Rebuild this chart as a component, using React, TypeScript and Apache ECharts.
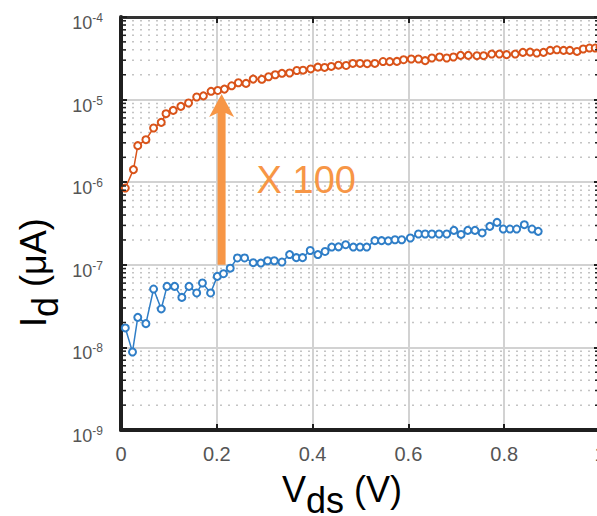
import React, { useEffect, useRef } from 'react';
import * as echarts from 'echarts';

const FONT = '"Liberation Sans", Arial, Helvetica, sans-serif';

// I_d (blue, before) — V_ds in V, I_d in µA
const blueX = [0.009, 0.024, 0.035, 0.052, 0.068, 0.084, 0.096, 0.112, 0.127, 0.142, 0.158, 0.170, 0.187, 0.201, 0.214, 0.228, 0.243, 0.258, 0.276, 0.292, 0.306, 0.320, 0.336, 0.352, 0.366, 0.379, 0.395, 0.411, 0.426, 0.440, 0.454, 0.469, 0.485, 0.499, 0.513, 0.530, 0.544, 0.558, 0.572, 0.586, 0.604, 0.621, 0.635, 0.649, 0.664, 0.680, 0.695, 0.710, 0.724, 0.739, 0.754, 0.770, 0.785, 0.798, 0.812, 0.826, 0.842, 0.858, 0.871];
const blueY = [1.72e-8, 8.8e-9, 2.31e-8, 1.94e-8, 5.09e-8, 2.92e-8, 5.48e-8, 5.48e-8, 4.03e-8, 5.48e-8, 4.56e-8, 6.02e-8, 4.56e-8, 7.24e-8, 7.8e-8, 9.1e-8, 1.21e-7, 1.21e-7, 1.06e-7, 1.05e-7, 1.12e-7, 1.12e-7, 1.08e-7, 1.33e-7, 1.22e-7, 1.22e-7, 1.49e-7, 1.33e-7, 1.45e-7, 1.64e-7, 1.65e-7, 1.75e-7, 1.64e-7, 1.64e-7, 1.64e-7, 1.96e-7, 1.96e-7, 1.95e-7, 2.01e-7, 2.01e-7, 2.11e-7, 2.36e-7, 2.36e-7, 2.36e-7, 2.36e-7, 2.36e-7, 2.61e-7, 2.33e-7, 2.61e-7, 2.61e-7, 2.43e-7, 2.92e-7, 3.26e-7, 2.71e-7, 2.71e-7, 2.71e-7, 3.06e-7, 2.71e-7, 2.54e-7];

// I_d (red, after)
const redX = [0.009, 0.026, 0.035, 0.052, 0.068, 0.084, 0.094, 0.109, 0.125, 0.141, 0.158, 0.172, 0.188, 0.202, 0.216, 0.231, 0.245, 0.261, 0.276, 0.294, 0.308, 0.322, 0.336, 0.352, 0.367, 0.380, 0.396, 0.411, 0.425, 0.439, 0.454, 0.470, 0.484, 0.499, 0.514, 0.530, 0.547, 0.561, 0.576, 0.590, 0.606, 0.621, 0.635, 0.649, 0.665, 0.680, 0.694, 0.709, 0.725, 0.743, 0.757, 0.774, 0.790, 0.805, 0.823, 0.839, 0.854, 0.868, 0.882, 0.896, 0.910, 0.924, 0.937, 0.952, 0.965, 0.978, 0.990, 1.0];
const redY = [8.5e-7, 1.42e-6, 2.77e-6, 3.27e-6, 4.53e-6, 5.3e-6, 6.75e-6, 7.4e-6, 8.28e-6, 9.1e-6, 1.075e-5, 1.11e-5, 1.26e-5, 1.29e-5, 1.34e-5, 1.47e-5, 1.6e-5, 1.57e-5, 1.77e-5, 1.76e-5, 1.89e-5, 2.0e-5, 2.08e-5, 2.1e-5, 2.25e-5, 2.27e-5, 2.35e-5, 2.47e-5, 2.45e-5, 2.52e-5, 2.61e-5, 2.59e-5, 2.74e-5, 2.74e-5, 2.72e-5, 2.74e-5, 2.89e-5, 2.88e-5, 2.9e-5, 3.04e-5, 3.1e-5, 3.1e-5, 2.96e-5, 3.19e-5, 3.28e-5, 3.19e-5, 3.28e-5, 3.43e-5, 3.43e-5, 3.4e-5, 3.4e-5, 3.56e-5, 3.56e-5, 3.5e-5, 3.56e-5, 3.73e-5, 3.76e-5, 3.66e-5, 3.73e-5, 3.94e-5, 4.01e-5, 3.94e-5, 3.94e-5, 3.83e-5, 4.1e-5, 4.21e-5, 4.21e-5, 4.3e-5];

const yDecades = [-9, -8, -7, -6, -5];
const minorMultipliers = [2, 3, 4, 5, 6, 7, 8, 9];
const arrowFrom = [0.21, 1e-7];
const arrowTo = [0.21, 1.17e-5];
const annotationText = 'X 100';

const RED = '#D95319';
const BLUE = '#2F7EC7';
const ORANGE = '#F79646';

export default function App() {
  const ref = useRef<HTMLDivElement>(null);

  useEffect(() => {
    if (!ref.current) return;
    const chart = echarts.init(ref.current, null, { renderer: 'svg' });

    const axisColor = '#1f1f1f';
    const option: any = {
      animation: false,
      backgroundColor: '#ffffff',
      grid: { left: 121, right: -3, top: 17, bottom: 86, containLabel: false, outerBoundsMode: 'none' },
      xAxis: [
        {
          type: 'value', min: 0, max: 1, interval: 0.2, position: 'bottom',
          axisLine: { show: true, onZero: false, lineStyle: { color: axisColor, width: 4 } },
          axisTick: { show: true, inside: true, length: 6, lineStyle: { color: axisColor, width: 2 } },
          axisLabel: { fontSize: 20, color: '#555555', margin: 14, fontFamily: FONT, hideOverlap: false },
          splitLine: { show: true, lineStyle: { color: '#d2d2d2', width: 2 } },
        },
        {
          type: 'value', min: 0, max: 1, interval: 0.2, position: 'top',
          axisLine: { show: true, onZero: false, lineStyle: { color: '#333333', width: 3 } },
          axisTick: { show: true, inside: true, length: 6, lineStyle: { color: axisColor, width: 2 } },
          axisLabel: { show: false },
          splitLine: { show: false },
        },
      ],
      yAxis: [
        {
          type: 'log', logBase: 10, min: 1e-9, max: 1e-4, position: 'left',
          axisLine: { show: true, onZero: false, lineStyle: { color: axisColor, width: 4 } },
          axisTick: { show: true, inside: true, length: 6, lineStyle: { color: axisColor, width: 2 } },
          axisLabel: {
            margin: 18,
            padding: [12, 0, 0, 0],
            color: '#555555',
            fontFamily: FONT,
            formatter: (v: number) => `{b|10}{s|${Math.round(Math.log10(v))}}`,
            rich: {
              b: { fontSize: 18, lineHeight: 22, color: '#555555', fontFamily: FONT },
              s: { fontSize: 12, verticalAlign: 'top', color: '#555555', fontFamily: FONT },
            },
          },
          splitLine: { show: true, lineStyle: { color: '#d2d2d2', width: 2 } },
        },
        {
          type: 'log', logBase: 10, min: 1e-9, max: 1e-4, position: 'right',
          axisLine: { show: true, onZero: false, lineStyle: { color: axisColor, width: 3 } },
          axisTick: { show: true, inside: true, length: 6, lineStyle: { color: axisColor, width: 2 } },
          axisLabel: { show: false },
          splitLine: { show: false },
        },
      ],
      series: [
        {
          type: 'line', xAxisIndex: 0, yAxisIndex: 0, z: 3,
          data: redX.map((x, i) => [x, redY[i]]),
          symbol: 'emptyCircle', symbolSize: 7,
          lineStyle: { color: RED, width: 1.5 },
          itemStyle: { color: RED, borderColor: RED, borderWidth: 1.5 },
        },
        {
          type: 'line', xAxisIndex: 0, yAxisIndex: 0, z: 3,
          data: blueX.map((x, i) => [x, blueY[i]]),
          symbol: 'emptyCircle', symbolSize: 7,
          lineStyle: { color: BLUE, width: 1.5 },
          itemStyle: { color: BLUE, borderColor: BLUE, borderWidth: 1.5 },
        },
      ],
    };
    chart.setOption(option);

    const toPx = (p: number[]) => chart.convertToPixel({ xAxisIndex: 0, yAxisIndex: 0 }, p) as number[];
    const graphics: any[] = [];
    const xl = toPx([0, 1e-6])[0];
    const xr = toPx([1, 1e-6])[0];
    yDecades.forEach((d) => {
      minorMultipliers.forEach((k) => {
        const y = toPx([0, k * Math.pow(10, d)])[1];
        graphics.push({
          type: 'line', silent: true, z: 1,
          shape: { x1: xl + 3, y1: y, x2: xr, y2: y },
          style: { stroke: '#c4c4c4', lineWidth: 1.5, lineDash: [2, 6] },
        });
        graphics.push({
          type: 'line', silent: true, z: 5,
          shape: { x1: xl, y1: y, x2: xl + 5, y2: y },
          style: { stroke: axisColor, lineWidth: 1.5 },
        });
        graphics.push({
          type: 'line', silent: true, z: 5,
          shape: { x1: xr - 5, y1: y, x2: xr, y2: y },
          style: { stroke: axisColor, lineWidth: 1.5 },
        });
      });
    });

    // arrow
    const a0 = toPx(arrowFrom);
    const a1 = toPx(arrowTo);
    const ax = a0[0];
    const hw = 4, headW = 12.5, headH = 23, notch = 4;
    graphics.push({
      type: 'polygon', silent: true, z: 6,
      shape: {
        points: [
          [ax - hw, a0[1]], [ax - hw, a1[1] + headH - notch], [ax - headW, a1[1] + headH],
          [ax, a1[1]], [ax + headW, a1[1] + headH], [ax + hw, a1[1] + headH - notch], [ax + hw, a0[1]],
        ],
      },
      style: { fill: ORANGE },
    });
    graphics.push({
      type: 'text', silent: true, z: 6,
      x: ax + 35, y: 180,
      style: { text: annotationText, fontSize: 38, fill: ORANGE, fontFamily: FONT, verticalAlign: 'middle', align: 'left' },
    });

    // x axis title
    graphics.push({
      type: 'group', silent: true, z: 6, x: 282, y: 502,
      children: [
        { type: 'text', x: 0, y: -12.6, style: { text: 'V', fontSize: 36, fill: '#000', fontFamily: FONT, verticalAlign: 'middle', align: 'left' } },
        { type: 'text', x: 24, y: -1.6, style: { text: 'ds', fontSize: 36, fill: '#000', fontFamily: FONT, verticalAlign: 'middle', align: 'left' } },
        { type: 'text', x: 62, y: -12.6, style: { text: ' (V)', fontSize: 36, fill: '#000', fontFamily: FONT, verticalAlign: 'middle', align: 'left' } },
      ],
    });
    // y axis title (rotated)
    graphics.push({
      type: 'group', silent: true, z: 6, x: 46, y: 327, rotation: Math.PI / 2,
      children: [
        { type: 'text', x: 0, y: -12.6, style: { text: 'I', fontSize: 36, fill: '#000', fontFamily: FONT, verticalAlign: 'middle', align: 'left' } },
        { type: 'text', x: 10, y: -0.6, style: { text: 'd', fontSize: 36, fill: '#000', fontFamily: FONT, verticalAlign: 'middle', align: 'left' } },
        { type: 'text', x: 30, y: -12.6, style: { text: ' (μA)', fontSize: 36, fill: '#000', fontFamily: FONT, verticalAlign: 'middle', align: 'left' } },
      ],
    });

    chart.setOption({ graphic: graphics });

    return () => chart.dispose();
  }, []);

  return (
    <div
      ref={ref}
      style={{ position: 'fixed', left: 0, top: 0, width: 597, height: 516, background: '#fff' }}
    />
  );
}
